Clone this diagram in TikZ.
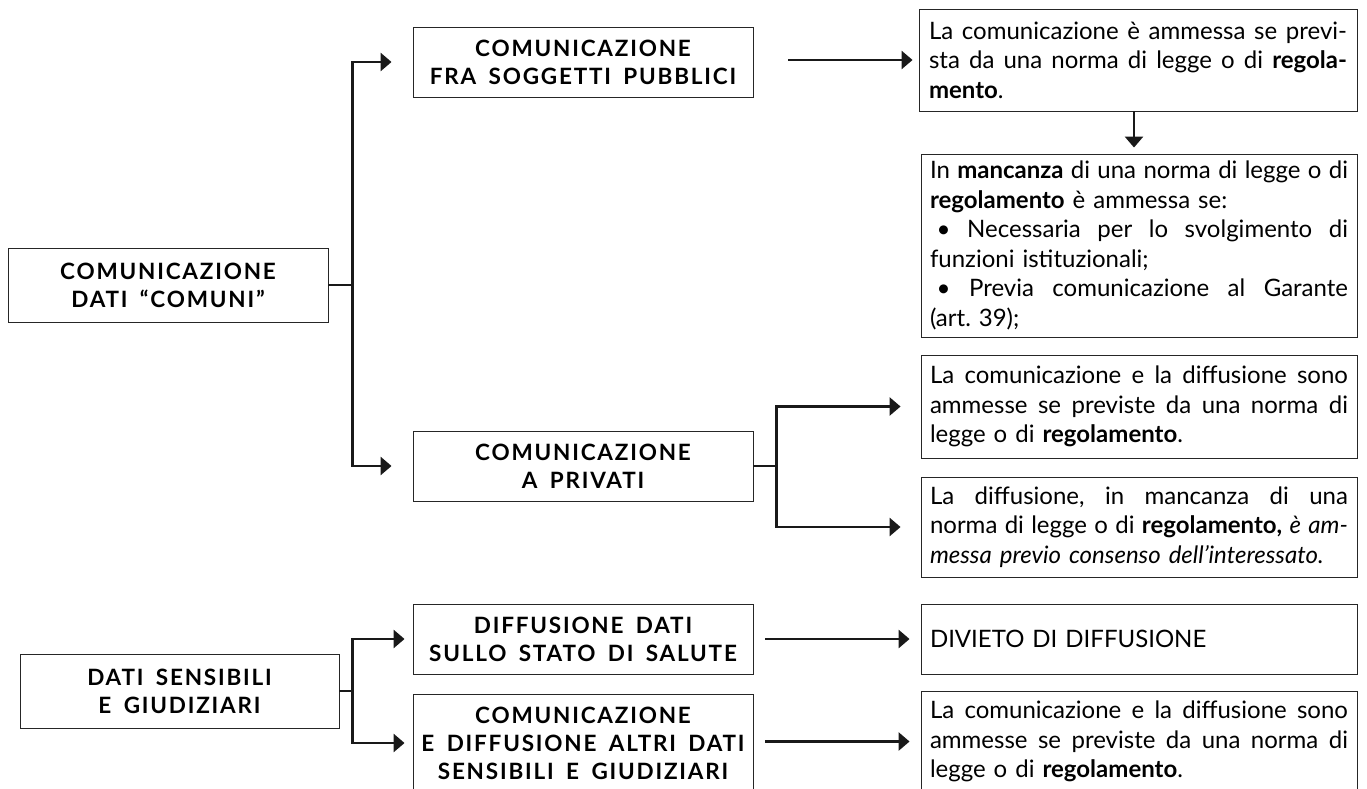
\documentclass[tikz,border=0pt]{standalone}
\usepackage{fontspec}
\setmainfont{Lato}
\newfontfamily\hfont[LetterSpace=8]{Lato}
\usetikzlibrary{arrows.meta}
\newcommand\jline[1]{\leavevmode\hbox to 418pt{\spaceskip=\fontdimen2\font plus 1fil\xspaceskip=\spaceskip #1}}
\newcommand\bul{\kern0.28em\textbullet{} }
\newcommand\widesp{\spaceskip=0.55em\relax}
\frenchspacing
\begin{document}
\begin{tikzpicture}[x=1pt,y=-1pt,
  box/.style={draw=black!85, line width=0.9pt, inner sep=0pt},
  headbox/.style={box, font=\hfont\bfseries\fontsize{22.5}{28}\selectfont, execute at begin node=\widesp, align=center, minimum width=340pt, minimum height=70pt},
  txtbox/.style={box, font=\fontsize{24}{29.5}\selectfont, text width=418pt, align=left, minimum width=436pt},
  conn/.style={line width=2.8pt, draw=black!90},
  arr/.style={conn, -{Triangle[length=11pt,width=18pt]}}]
\useasboundingbox (0,0) rectangle (1367,789);
\clip (0,0) rectangle (1367,789);

% left column
\node[headbox, minimum width=320pt, minimum height=74pt] (A) at (168,285) {COMUNICAZIONE\\DATI “COMUNI”};
\node[headbox, minimum width=319pt, minimum height=74pt] (K) at (179.5,691) {DATI SENSIBILI\\E GIUDIZIARI};

% middle column
\node[headbox] (B) at (583,62) {COMUNICAZIONE\\FRA SOGGETTI PUBBLICI};
\node[headbox] (P) at (583,466) {COMUNICAZIONE\\A PRIVATI};
\node[headbox] (S) at (583,639) {DIFFUSIONE DATI\\SULLO STATO DI SALUTE};
\node[headbox, minimum height=98pt] (T) at (583,743) {COMUNICAZIONE\\E DIFFUSIONE ALTRI DATI\\SENSIBILI E GIUDIZIARI};

% right column
\node[txtbox, minimum width=438pt, minimum height=102pt] (C) at (1138,60)
  {\jline{La comunicazione è ammessa se previ-}\\
   \jline{sta da una norma di legge o di \textbf{regola-}}\\
   \textbf{mento}.};
\node[txtbox, minimum height=183pt] (D) at (1139,245.5)
  {\jline{In \textbf{mancanza} di una norma di legge o di}\\
   \textbf{regolamento} è ammessa se:\\
   \jline{\bul Necessaria per lo svolgimento di}\\
   funzioni istituzionali;\\
   \jline{\bul Previa comunicazione al Garante}\\
   (art. 39);};
\node[txtbox, minimum height=103pt] (E) at (1139,406.5)
  {\jline{La comunicazione e la diffusione sono}\\
   \jline{ammesse se previste da una norma di}\\
   legge o di \textbf{regolamento}.};
\node[txtbox, minimum height=100pt] (F) at (1139,527)
  {\jline{La diffusione, in mancanza di una}\\
   \jline{norma di legge o di \textbf{regolamento,} \textit{è am-}}\\
   \textit{messa previo consenso dell’interessato.}};
\node[txtbox, minimum height=70pt] (G) at (1139,639) {DIVIETO DI DIFFUSIONE};
\node[txtbox, minimum height=101pt] (H) at (1139,741.5)
  {\jline{La comunicazione e la diffusione sono}\\
   \jline{ammesse se previste da una norma di}\\
   legge o di \textbf{regolamento}.};

% connectors
\draw[conn] (A.east) -- ++(24,0) coordinate (ja);
\draw[arr] (ja) |- ([xshift=-21pt]B.west);
\draw[arr] (ja) |- ([xshift=-21pt]P.west);

\draw[arr] ([xshift=35pt]B.east |- C.west) -- ([xshift=-6pt]C.west);
\draw[arr] (C.south -| 1134,0) -- ([yshift=6pt]D.north -| 1134,0);

\draw[conn] (P.east) -- ++(23,0) coordinate (jp);
\draw[arr] (jp) |- ([xshift=-20pt]E.west);
\draw[arr] (jp) |- ([xshift=-20pt]F.west);

\draw[conn] (K.east) -- ++(13,0) coordinate (jk);
\draw[arr] (jk) |- ([xshift=-8pt]S.west);
\draw[arr] (jk) |- ([xshift=-8pt]T.west);

\draw[arr] ([xshift=12pt]S.east) -- ([xshift=-11pt]G.west);
\draw[arr] ([xshift=12pt]T.east |- H.west) -- ([xshift=-11pt]H.west);
\end{tikzpicture}
\end{document}
